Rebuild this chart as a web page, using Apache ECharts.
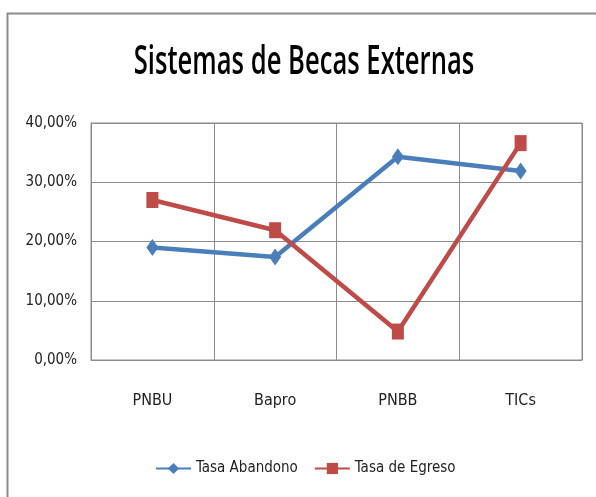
<!DOCTYPE html>
<html>
<head>
<meta charset="utf-8">
<script src="https://cdn.jsdelivr.net/npm/echarts@6/dist/echarts.min.js"></script>
<style>
  html, body { margin: 0; padding: 0; background: #fff; }
  #chart { width: 596px; height: 497px; }
</style>
</head>
<body>
<div id="chart"></div>
<script>
var titleText = 'Sistemas de Becas Externas'
var categories = ['PNBU', 'Bapro', 'PNBB', 'TICs']
var seriesNames = ['Tasa Abandono', 'Tasa de Egreso']
var tasaAbandono = [19.0, 17.4, 34.3, 31.9]
var tasaEgreso = [27.0, 21.9, 4.8, 36.6]

var font = '"DejaVu Sans Condensed", "Liberation Sans", sans-serif'

var chart = echarts.init(document.getElementById('chart'))
chart.setOption({
  animation: false,
  textStyle: { fontFamily: font },
  graphic: [{
    type: 'rect',
    shape: { x: 7.5, y: 13.5, width: 620, height: 520 },
    style: { fill: 'none', stroke: '#8c8c8c', lineWidth: 2 }
  }, {
    // title drawn as graphic text so it can be condensed like the original
    type: 'text',
    x: 304,
    y: 63,
    scaleX: 0.64,
    style: {
      text: titleText,
      font: '600 40px "Open Sans", "Liberation Sans", sans-serif',
      fill: '#000',
      align: 'center',
      verticalAlign: 'middle'
    }
  }],
  legend: {
    bottom: 16,
    left: 150,
    itemWidth: 35,
    itemHeight: 14,
    itemGap: 16,
    textStyle: { fontFamily: font, fontSize: 15, color: '#222' },
    data: seriesNames
  },
  grid: {
    left: 91,
    right: 14,
    top: 123,
    bottom: 137,
    show: true,
    borderColor: '#8c8c8c',
    borderWidth: 1
  },
  xAxis: {
    type: 'category',
    data: categories,
    boundaryGap: true,
    axisLine: { lineStyle: { color: '#8c8c8c' } },
    axisTick: { show: false },
    axisLabel: { margin: 33, fontSize: 16, color: '#222', fontFamily: font },
    splitLine: { show: true, lineStyle: { color: '#8c8c8c', width: 1 } }
  },
  yAxis: {
    type: 'value',
    min: 0,
    max: 40,
    interval: 10,
    axisLine: { show: true, lineStyle: { color: '#8c8c8c' } },
    axisTick: { show: false },
    axisLabel: {
      margin: 14,
      fontSize: 15,
      color: '#222',
      fontFamily: font,
      formatter: function (v) { return v.toFixed(2).replace('.', ',') + '%' }
    },
    splitLine: { lineStyle: { color: '#8c8c8c', width: 1 } }
  },
  series: [{
    name: seriesNames[0],
    type: 'line',
    data: tasaAbandono,
    symbol: 'diamond',
    symbolSize: [12, 17],
    lineStyle: { color: '#4a7ebb', width: 4.5 },
    itemStyle: { color: '#4a7ebb' }
  }, {
    name: seriesNames[1],
    type: 'line',
    data: tasaEgreso,
    symbol: 'rect',
    symbolSize: [12, 16],
    lineStyle: { color: '#be4b48', width: 4.5 },
    itemStyle: { color: '#be4b48' }
  }]
})
</script>
</body>
</html>
